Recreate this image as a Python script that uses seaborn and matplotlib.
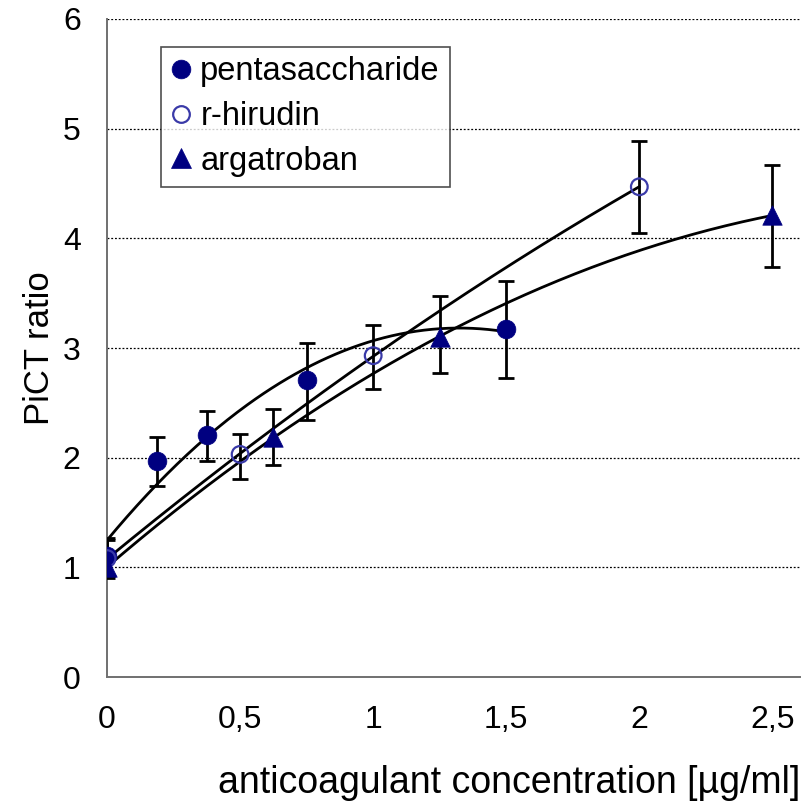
import numpy as np
import pandas as pd
import matplotlib
matplotlib.use("Agg")
import matplotlib.pyplot as plt
import seaborn as sns

sns.set_theme(style="white")
plt.rcParams['font.family'] = ['Liberation Sans', 'DejaVu Sans']
plt.rcParams.update({"text.color": "black", "axes.labelcolor": "black",
                     "xtick.color": "black", "ytick.color": "black"})

# Measured PiCT ratios (mean with upper / lower error limits)
penta_x = [0.0, 0.1875, 0.375, 0.75, 1.5]
penta_y = [1.10, 1.97, 2.21, 2.71, 3.17]
penta_hi = [1.27, 2.19, 2.43, 3.05, 3.61]
penta_lo = [0.93, 1.74, 1.97, 2.34, 2.73]

hirud_x = [0.0, 0.5, 1.0, 2.0]
hirud_y = [1.08, 2.03, 2.93, 4.47]
hirud_hi = [1.25, 2.22, 3.21, 4.89]
hirud_lo = [0.92, 1.81, 2.63, 4.05]

arga_x = [0.0, 0.625, 1.25, 2.5]
arga_y = [1.00, 2.19, 3.10, 4.21]
arga_hi = [1.10, 2.44, 3.47, 4.67]
arga_lo = [0.90, 1.93, 2.77, 3.74]

x_ticks = [0, 0.5, 1, 1.5, 2, 2.5]
x_tick_labels = ["0", "0,5", "1", "1,5", "2", "2,5"]
y_ticks = [0, 1, 2, 3, 4, 5, 6]

navy = "#000080"

fig = plt.figure(figsize=(8.09, 8.08), dpi=100)
ax = fig.add_axes([0.1323, 0.1621, 0.857, 0.8144])

series = [
    ("pentasaccharide", penta_x, penta_y, penta_hi, penta_lo, "o", navy, navy, 13.5),
    ("r-hirudin", hirud_x, hirud_y, hirud_hi, hirud_lo, "o", "none", "#3a3aa8", 12),
    ("argatroban", arga_x, arga_y, arga_hi, arga_lo, "^", navy, navy, 14),
]

# second-order polynomial trend lines
for name, xs, ys, hi, lo, mk, fc, ec, ms in series:
    coef = np.polyfit(xs, ys, 2)
    xf = np.linspace(0, max(xs), 200)
    trend = pd.DataFrame({"x": xf, "y": np.polyval(coef, xf)})
    sns.lineplot(data=trend, x="x", y="y", ax=ax, color="black", lw=2, zorder=2)

# error bars
for name, xs, ys, hi, lo, mk, fc, ec, ms in series:
    ys_a = np.array(ys)
    yerr = [ys_a - np.array(lo), np.array(hi) - ys_a]
    ax.errorbar(xs, ys, yerr=yerr, fmt="none", ecolor="black", elinewidth=2,
                capsize=6, capthick=2, zorder=3)

# markers
handles = []
for name, xs, ys, hi, lo, mk, fc, ec, ms in series:
    df = pd.DataFrame({"x": xs, "y": ys})
    lw = 1.6 if fc == "none" else 0.5
    sns.scatterplot(data=df, x="x", y="y", ax=ax, marker=mk, s=ms ** 2,
                    facecolor=fc, edgecolor=ec, linewidth=lw, zorder=4)
    h, = ax.plot([], [], ls="none", marker=mk, markersize=ms,
                 markerfacecolor=fc, markeredgecolor=ec, markeredgewidth=lw,
                 label=name)
    handles.append(h)

ax.set_xlim(0, 2.605)
ax.set_ylim(0, 6)
ax.set_xticks(x_ticks)
ax.set_xticklabels(x_tick_labels)
ax.set_yticks(y_ticks)
ax.tick_params(axis="both", labelsize=23, direction="out", length=7,
               width=1, color="#333333", pad=13)
ax.tick_params(axis="y", pad=12)

for v in y_ticks[1:]:
    ax.axhline(v, color="black", lw=0.9, ls=(0, (1.5, 1.5)), zorder=1)

for s in ["top", "right"]:
    ax.spines[s].set_visible(False)
for s in ["left", "bottom"]:
    ax.spines[s].set_color("#707070")
    ax.spines[s].set_linewidth(1.4)

ax.set_xlabel("anticoagulant concentration [µg/ml]", fontsize=27, labelpad=22,
              loc="right")
ax.set_ylabel("PiCT ratio", fontsize=25, labelpad=5)

leg = ax.legend(handles=handles, loc="upper left", bbox_to_anchor=(0.078, 0.958),
                fontsize=23.5, frameon=True, fancybox=False, handlelength=0.6,
                handletextpad=0.3, borderpad=0.3, labelspacing=0.42,
                borderaxespad=0, edgecolor="#222222")
leg.get_frame().set_linewidth(1.2)

fig.savefig("out.png", dpi=100)
